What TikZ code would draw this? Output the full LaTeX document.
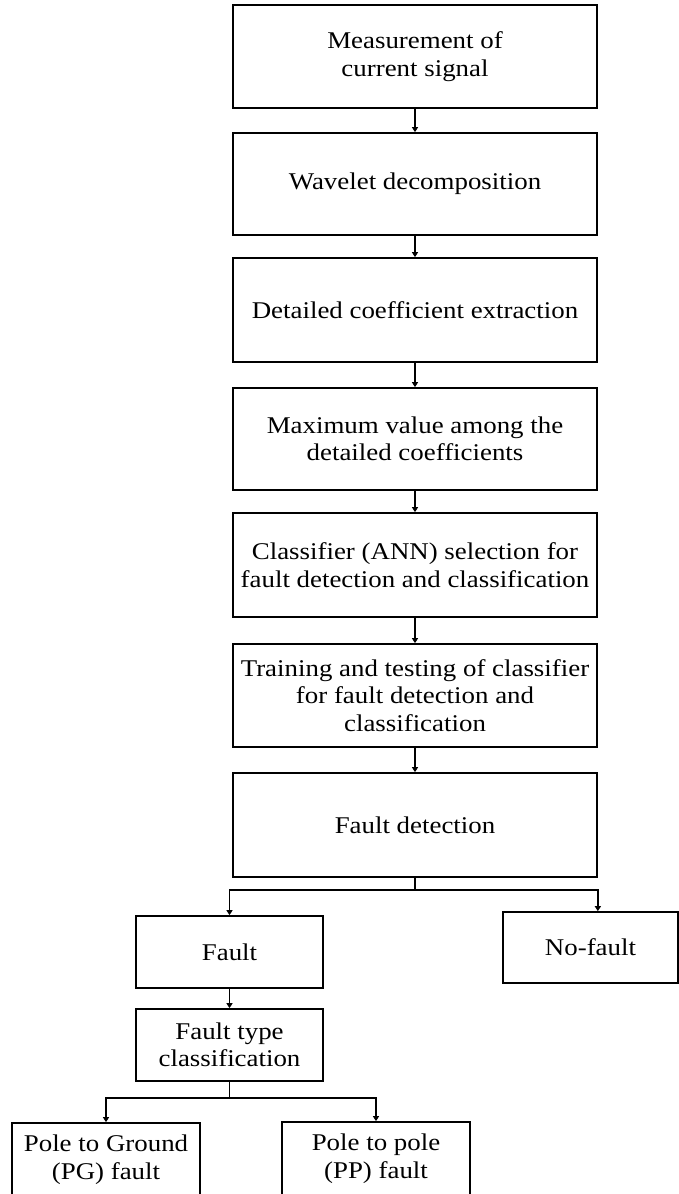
\documentclass[tikz,border=0pt]{standalone}
\usepackage{fontspec}
\setmainfont{Liberation Serif}[FakeStretch=1.12]
\usetikzlibrary{arrows.meta}
\begin{document}
\begin{tikzpicture}[x=1pt,y=-1pt,
  box/.style={draw,line width=1.7pt,rectangle,inner sep=0pt,align=center,
    font=\fontsize{24}{27.5}\selectfont},
  mainbox/.style={box,minimum width=364pt},
  conn/.style={line width=1.7pt},
  arr/.style={line width=1.7pt,-{Triangle[length=5pt,width=6pt]}}]
\useasboundingbox (0,0) rectangle (679,1194);
\clip (0,0) rectangle (679,1194);
\node[mainbox,minimum height=103pt] (b1) at (415,56.5) {Measurement of\\current signal};
\node[mainbox,minimum height=102pt] (b2) at (415,184) {Wavelet decomposition};
\node[mainbox,minimum height=104pt] (b3) at (415,310) {Detailed coefficient extraction};
\node[mainbox,minimum height=102pt] (b4) at (415,439) {Maximum value among the\\detailed coefficients};
\node[mainbox,minimum height=104pt] (b5) at (415,565) {Classifier (ANN) selection for\\fault detection and classification};
\node[mainbox,minimum height=103pt] (b6) at (415,695.5) {Training and testing of classifier\\for fault detection and\\classification};
\node[mainbox,minimum height=104pt] (b7) at (415,825) {Fault detection};
\node[box,minimum width=187pt,minimum height=72pt] (fault) at (229.5,952) {Fault};
\node[box,minimum width=175pt,minimum height=71pt] (nofault) at (590.5,947.5) {No-fault};
\node[box,minimum width=187pt,minimum height=72pt] (ftype) at (229.5,1045) {Fault type\\classification};
\node[box,minimum width=188pt,minimum height=73pt] (pg) at (106,1159.5) {Pole to Ground\\(PG) fault};
\node[box,minimum width=188pt,minimum height=73pt] (pp) at (376,1158.5) {Pole to pole\\(PP) fault};
\draw[arr] (b1.south) -- (b2.north);
\draw[arr] (b2.south) -- (b3.north);
\draw[arr] (b3.south) -- (b4.north);
\draw[arr] (b4.south) -- (b5.north);
\draw[arr] (b5.south) -- (b6.north);
\draw[arr] (b6.south) -- (b7.north);
\draw[conn] (b7.south) -- ++(0,12) coordinate (j1);
\draw[arr] (j1) -| (fault.north);
\draw[arr] (j1) -| (b7.south east |- nofault.north);
\draw[arr] (fault.south) -- (ftype.north);
\draw[conn] (ftype.south) -- ++(0,16) coordinate (j2);
\draw[arr] (j2) -| (pg.north);
\draw[arr] (j2) -| (pp.north);
\end{tikzpicture}
\end{document}
